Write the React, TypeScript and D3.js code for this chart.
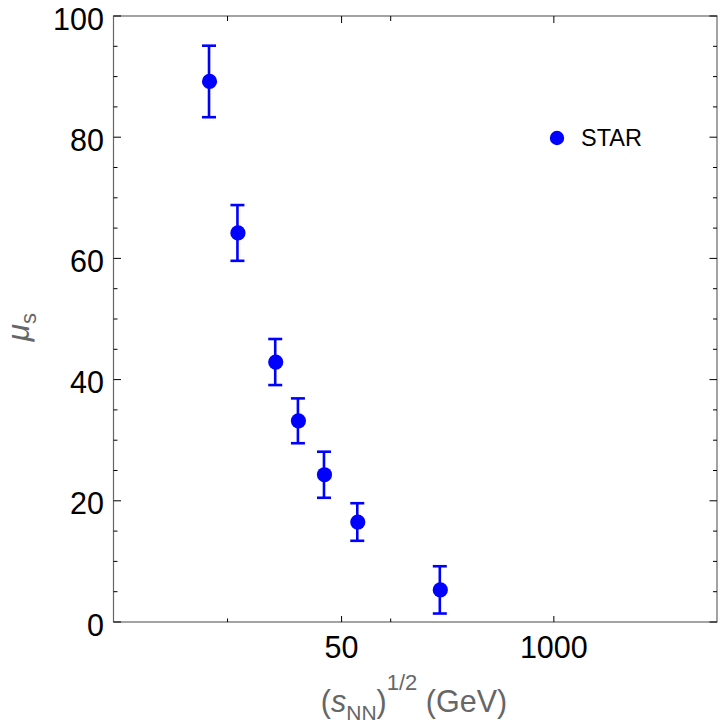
import React from "react";
import * as d3 from "d3";

const energies = [7.7, 11.5, 19.6, 27, 39, 62.4, 200];
const muS = [89.2, 64.2, 42.9, 33.2, 24.3, 16.5, 5.3];
const muErr = [5.9, 4.6, 3.8, 3.7, 3.8, 3.1, 3.9];
const xTicksMajor = [50, 1000];
const xTicksMinor = [10, 100];
const yTicksMajor = [0, 20, 40, 60, 80, 100];
const legendLabel = "STAR";

const W = 720;
const H = 728;
const L = 113.5, R = 717, T = 16, B = 622;
const BLUE = "#0000ff";
const FONT = "'Liberation Sans', Arial, Helvetica, sans-serif";

export default function App() {
  const x = d3.scaleLog().domain([2, 10000]).range([L, R]);
  const y = d3.scaleLinear().domain([0, 100]).range([B, T]);
  const yMinor = d3.range(0, 101, 5).filter((v) => v % 20 !== 0);

  return (
    <div style={{ position: "absolute", left: 0, top: 0 }}>
      <svg width={W} height={H} style={{ display: "block", background: "#fff" }}>
        {/* frame */}
        <rect x={L} y={T} width={R - L} height={B - T} fill="none" stroke="#666" strokeWidth={1.2} />
        {/* y ticks */}
        {yTicksMajor.map((v) => (
          <g key={"ym" + v}>
            <line x1={L} x2={L + 7.5} y1={y(v)} y2={y(v)} stroke="#000" strokeWidth={1} />
            <line x1={R} x2={R - 7.5} y1={y(v)} y2={y(v)} stroke="#000" strokeWidth={1} />
            <text x={104} y={y(v) + 13.5} textAnchor="end" fontFamily={FONT} fontSize={30.5} fill="#000">
              {v}
            </text>
          </g>
        ))}
        {yMinor.map((v) => (
          <g key={"yn" + v}>
            <line x1={L} x2={L + 4} y1={y(v)} y2={y(v)} stroke="#000" strokeWidth={1} />
            <line x1={R} x2={R - 4} y1={y(v)} y2={y(v)} stroke="#000" strokeWidth={1} />
          </g>
        ))}
        {/* x ticks */}
        {xTicksMajor.map((v) => (
          <g key={"xm" + v}>
            <line x1={x(v)} x2={x(v)} y1={B} y2={B - 6} stroke="#000" strokeWidth={1} />
            <line x1={x(v)} x2={x(v)} y1={T} y2={T + 7} stroke="#000" strokeWidth={1} />
            <text x={x(v)} y={B + 36} textAnchor="middle" fontFamily={FONT} fontSize={30.5} fill="#000">
              {v}
            </text>
          </g>
        ))}
        {xTicksMinor.map((v) => (
          <g key={"xn" + v}>
            <line x1={x(v)} x2={x(v)} y1={B} y2={B - 3.5} stroke="#000" strokeWidth={1} />
            <line x1={x(v)} x2={x(v)} y1={T} y2={T + 5} stroke="#000" strokeWidth={1} />
          </g>
        ))}
        {/* error bars and points */}
        {energies.map((e, i) => {
          const cx = x(e);
          const yt = y(muS[i] + muErr[i]);
          const yb = y(muS[i] - muErr[i]);
          return (
            <g key={"p" + i}>
              <line x1={cx} x2={cx} y1={yt} y2={yb} stroke={BLUE} strokeWidth={2.6} />
              <line x1={cx - 7} x2={cx + 7} y1={yt} y2={yt} stroke={BLUE} strokeWidth={2.6} />
              <line x1={cx - 7} x2={cx + 7} y1={yb} y2={yb} stroke={BLUE} strokeWidth={2.6} />
              <circle cx={cx + 0.5} cy={y(muS[i])} r={7.6} fill={BLUE} />
            </g>
          );
        })}
        {/* legend */}
        <circle cx={557} cy={138} r={7.2} fill={BLUE} />
        <text x={581} y={146} fontFamily={FONT} fontSize={23.5} fill="#000">
          {legendLabel}
        </text>
        {/* axis labels */}
        <text x={414} y={712} textAnchor="middle" fontFamily={FONT} fontSize={30.5} fill="#666">
          <tspan>(</tspan>
          <tspan fontStyle="italic">s</tspan>
          <tspan fontSize={21} dy={8}>NN</tspan>
          <tspan dy={-8}>)</tspan>
          <tspan fontSize={22} dy={-22}>1/2</tspan>
          <tspan dy={22}> (GeV)</tspan>
        </text>
        <text
          transform={`translate(29, 327) rotate(-90)`}
          textAnchor="middle"
          fontFamily={FONT}
          fontSize={31.5}
          fill="#666"
        >
          <tspan fontStyle="italic">μ</tspan>
          <tspan fontSize={22} dy={7}>s</tspan>
        </text>
      </svg>
    </div>
  );
}
